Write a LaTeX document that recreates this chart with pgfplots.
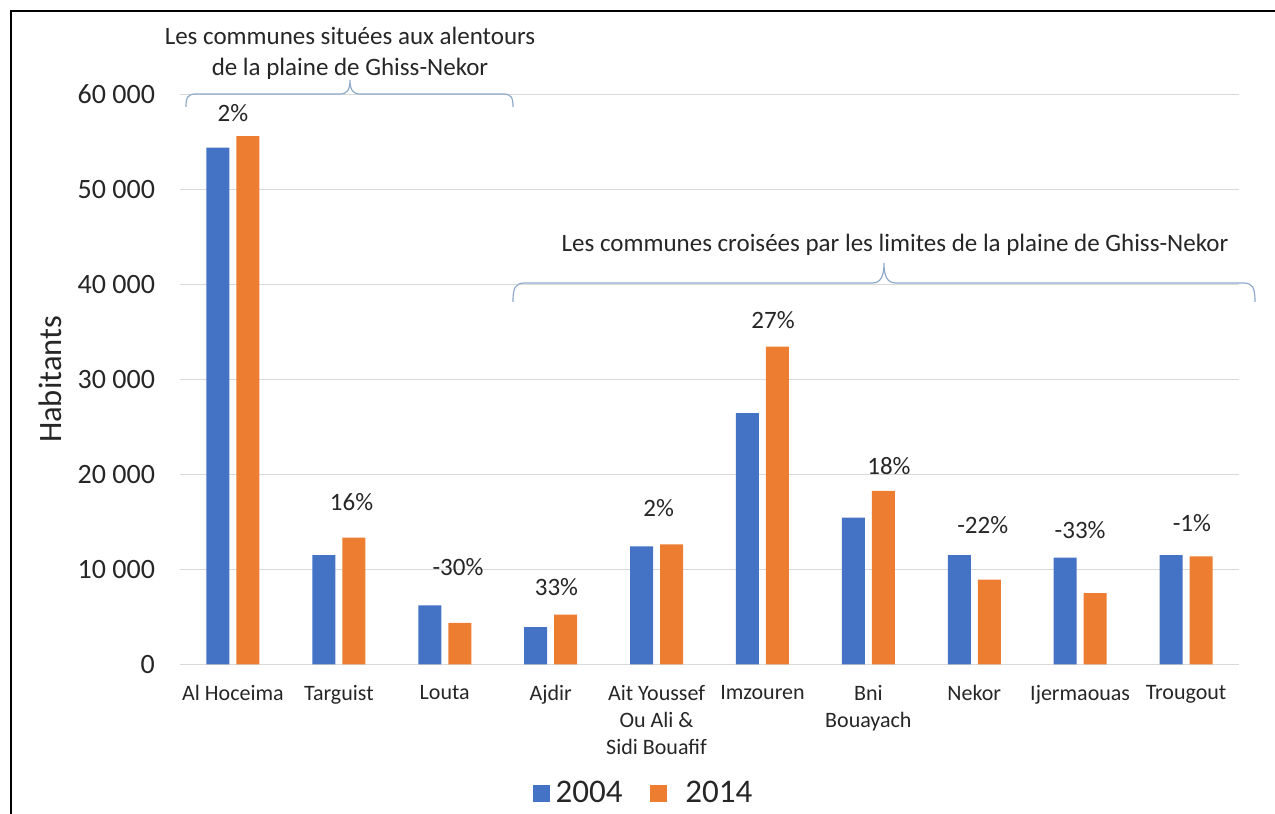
\documentclass[border=0pt]{standalone}
\usepackage{fontspec}
\setmainfont{Carlito}
\usepackage{pgfplots}
\pgfplotsset{compat=1.18}
\definecolor{cblue}{HTML}{4472C4}
\definecolor{corange}{HTML}{ED7D31}
\definecolor{gridc}{HTML}{D9D9D9}
\definecolor{brc}{HTML}{8EA9C9}
\definecolor{txt}{HTML}{262626}
\begin{document}
\begin{tikzpicture}
\path[use as bounding box] (0,0) rectangle (637.5pt,407pt);
\begin{axis}[
  at={(90pt,74.75pt)}, anchor=south west,
  scale only axis, width=529.5pt, height=285.1pt,
  xmin=-0.5, xmax=9.5, ymin=0, ymax=60000,
  ybar=3.5pt, bar width=11.5pt,
  axis line style={draw=none},
  major tick length=0pt,
  scaled y ticks=false,
  xtick={0,...,9},
  xticklabels={Al Hoceima, Targuist, Louta, Ajdir, {Ait Youssef\\Ou Ali \&\\Sidi Bouafif}, Imzouren, {Bni\\Bouayach}, Nekor, Ijermaouas, Trougout},
  ytick={0,10000,20000,30000,40000,50000,60000},
  yticklabels={0,10 000,20 000,30 000,40 000,50 000,60 000},
  ymajorgrids, grid style={gridc, line width=0.75pt},
  yticklabel style={font=\fontsize{14}{16}\selectfont, text=txt, xshift=-9pt},
  xticklabel style={font=\fontsize{11}{13.5}\selectfont, text=txt, align=center, anchor=north, yshift=-7pt},
  ylabel={Habitants},
  ylabel style={at={(axis description cs:-0.1228,0.5)}, anchor=center, font=\fontsize{16.3}{18}\selectfont, text=txt},
  legend style={at={(axis description cs:0.4386,-0.2254)}, anchor=center, draw=none, fill=none,
    legend columns=2, font=\fontsize{16.5}{19}\selectfont, text=txt,
    /tikz/every even column/.append style={column sep=12pt}},
  legend image code/.code={\fill[#1] (0pt,-4.25pt) rectangle (8.5pt,4.25pt);},
  clip=false,
]
\addplot[fill=cblue, draw=none] coordinates {(0,54400) (1,11500) (2,6230) (3,3940) (4,12440) (5,26440) (6,15450) (7,11500) (8,11240) (9,11500)};
\addplot[fill=corange, draw=none] coordinates {(0,55600) (1,13350) (2,4370) (3,5240) (4,12650) (5,33450) (6,18260) (7,8930) (8,7520) (9,11390)};
\legend{{\hspace{1pt}2004}, {\hspace{7pt}2014}}
\begin{scope}[every node/.style={font=\fontsize{12.5}{14}\selectfont, text=txt}]
\node at (axis cs:0,58050) {2\%};
\node at (axis cs:1.12,17100) {16\%};
\node at (axis cs:2.125,10260) {-30\%};
\node at (axis cs:3.055,8100) {33\%};
\node at (axis cs:4.02,16500) {2\%};
\node at (axis cs:5.10,36200) {27\%};
\node at (axis cs:6.195,20840) {18\%};
\node at (axis cs:7.08,14630) {-22\%};
\node at (axis cs:8.0,14160) {-33\%};
\node at (axis cs:9.055,14900) {-1\%};
\end{scope}
\end{axis}
\begin{scope}[shift={(0pt,407pt)}, x=0.5pt, y=-0.5pt]
\draw[black, line width=1pt] (11,814) -- (11,11) -- (1275,11);
\draw[brc, line width=0.6pt] (186,107) .. controls (186,97) and (188,94) .. (196,94) -- (340,94) .. controls (347,94) and (350,90) .. (350,80) .. controls (350,90) and (353,94) .. (360,94) -- (503,94) .. controls (511,94) and (513,97) .. (513,107);
\draw[brc, line width=0.6pt] (513,302) .. controls (513,288) and (515,283) .. (525,283) -- (872,283) .. controls (881,283) and (884,276) .. (884,263) .. controls (884,276) and (887,283) .. (896,283) -- (1243,283) .. controls (1253,283) and (1255,288) .. (1255,302);
\node[font=\fontsize{12.5}{15.5}\selectfont, text=txt, align=center] at (350,53) {Les communes situées aux alentours\\de la plaine de Ghiss-Nekor};
\node[font=\fontsize{12.5}{15}\selectfont, text=txt] at (895,245) {Les communes croisées par les limites de la plaine de Ghiss-Nekor};
\end{scope}
\end{tikzpicture}
\end{document}
